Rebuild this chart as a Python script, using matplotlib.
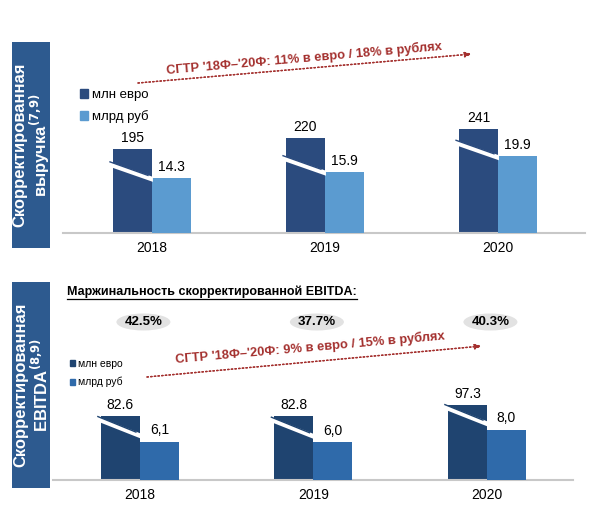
import matplotlib
matplotlib.use("Agg")
import matplotlib.pyplot as plt
from matplotlib.patches import Patch, Polygon, Rectangle, Ellipse
from matplotlib.lines import Line2D
from matplotlib.transforms import IdentityTransform

plt.rcParams['font.family'] = ['Liberation Sans', 'DejaVu Sans']

years = ['2018', '2019', '2020']
rev_eur = [195, 220, 241]
rev_rub = [14.3, 15.9, 19.9]
ebitda_eur = [82.6, 82.8, 97.3]
ebitda_rub = [6.1, 6.0, 8.0]
margin = [42.5, 37.7, 40.3]

W, H = 590, 505
fig = plt.figure(figsize=(W / 100, H / 100), dpi=100)

BOX = '#2D5A8F'
RED = '#A4302E'
GRID = '#C8C8C8'


def px_axes(left, top, right, bottom):
    return fig.add_axes([left / W, 1 - bottom / H, (right - left) / W, (bottom - top) / H])


def fig_xy(x, y):
    # pixel coords (y down) -> figure fraction
    return x / W, 1 - y / H


def setup(ax, xlim):
    ax.set_xlim(*xlim)
    for s in ['top', 'left', 'right']:
        ax.spines[s].set_visible(False)
    ax.spines['bottom'].set_color(GRID)
    ax.spines['bottom'].set_linewidth(1.5)
    ax.set_yticks([])
    ax.set_xticks(range(len(years)))
    ax.set_xticklabels(years, fontsize=10)
    ax.tick_params(axis='x', length=0, pad=6)


def panel(top, bottom, left, right, xlim, eur, rub, c1, c2, s1, s2, fmt_rub, brk):
    ax = px_axes(left, top, right, bottom)
    setup(ax, xlim)
    h = bottom - top
    ax.set_ylim(0, h / s1)
    ax2 = ax.twinx()
    ax2.set_ylim(0, h / s2)
    ax2.set_yticks([])
    for s in ax2.spines.values():
        s.set_visible(False)
    w = 0.225
    x = list(range(len(years)))
    b1 = ax.bar([i - w for i in x], eur, width=w, align='edge', color=c1, zorder=2)
    b2 = ax2.bar(x, rub, width=w, align='edge', color=c2, zorder=2)
    ax.bar_label(b1, labels=[f"{v:g}" for v in eur], padding=3, fontsize=10)
    ax2.bar_label(b2, labels=[fmt_rub(v) for v in rub], padding=3, fontsize=10)
    # broken-bar marks
    off, drop, thick = brk
    for r1, r2 in zip(b1, b2):
        x0, _ = ax.transData.transform((r1.get_x(), 0))
        x1, _ = ax.transData.transform((r1.get_x() + r1.get_width(), 0))
        _, yt = ax2.transData.transform((0, r2.get_height()))
        ur = yt + off
        ul = ur + drop
        pts = [(x0 - 3, ul), (x1 + 1, ur), (x1 + 1, ur - thick), (x0 - 3, ul - thick)]
        fig.add_artist(Polygon(pts, closed=True, fc='white', ec='none',
                               transform=IdentityTransform(), zorder=5))
        fig.add_artist(Line2D([x0 - 3, x1 - 4], [ul, ur + 1.5], color=c1, lw=1.0,
                              transform=IdentityTransform(), zorder=6))
    return ax, ax2


# ---- top panel: revenue
ax_t, ax_t2 = panel(40, 233, 63, 585, (-0.514, 2.503), rev_eur, rev_rub,
                    '#2B4B7E', '#5B9BD0', 0.4308, 3.855,
                    lambda v: f"{v:.1f}", (1, 15, 5))
# ---- bottom panel: EBITDA
ax_b, ax_b2 = panel(300, 480, 53, 573, (-0.501, 2.496), ebitda_eur, ebitda_rub,
                    '#1F4470', '#2F6AAA', 0.773, 6.3,
                    lambda v: f"{v:.1f}".replace('.', ','), (8, 17, 5))

# side boxes
for (top, bottom, label) in [(42, 248, "Скорректированная\nвыручка$^{\\mathbf{(7{,}9)}}$"),
                             (282, 488, "Скорректированная\nEBITDA$^{\\mathbf{(8{,}9)}}$")]:
    x0, y0 = fig_xy(12, bottom)
    fig.add_artist(Rectangle((x0, y0), 38 / W, (bottom - top) / H, fc=BOX, ec='none',
                             transform=fig.transFigure))
    cx, cy = fig_xy(32, (top + bottom) / 2)
    fig.text(cx, cy, label, rotation=90, ha='center', va='center', multialignment='center',
             color='white', fontsize=12, fontweight='bold', linespacing=1.05)

# legends
ax_t.legend(handles=[Patch(color='#2B4B7E', label='млн евро'), Patch(color='#5B9BD0', label='млрд руб')],
            loc='upper left', bbox_to_anchor=fig_xy(80, 89), bbox_transform=fig.transFigure,
            frameon=False, fontsize=9.5, handlelength=0.6, handleheight=0.6, handletextpad=0.3,
            labelspacing=0.7, borderpad=0, borderaxespad=0)
ax_b.legend(handles=[Patch(color='#1F4470', label='млн евро'), Patch(color='#2F6AAA', label='млрд руб')],
            loc='upper left', bbox_to_anchor=fig_xy(70, 359), bbox_transform=fig.transFigure,
            frameon=False, fontsize=7.5, handlelength=0.5, handleheight=0.5, handletextpad=0.3,
            labelspacing=0.75, borderpad=0, borderaxespad=0)

# CAGR arrows and captions
for (p0, p1, c, txt) in [((138, 83), (472, 54), (304, 58),
                          "СГТР '18Ф–'20Ф: 11% в евро / 18% в рублях"),
                         ((147, 377), (482, 346), (310, 348),
                          "СГТР '18Ф–'20Ф: 9% в евро / 15% в рублях")]:
    fig.add_artist(plt.annotate('', xy=fig_xy(*p1), xytext=fig_xy(*p0),
                                xycoords='figure fraction', textcoords='figure fraction',
                                arrowprops=dict(arrowstyle='-|>,head_length=0.4,head_width=0.15',
                                                linestyle=':', lw=1.0, color=RED,
                                                shrinkA=0, shrinkB=0)))
    fig.text(*fig_xy(*c), txt, rotation=5, rotation_mode='anchor', ha='center', va='center',
             color=RED, fontsize=9.3, fontweight='bold')

# EBITDA margin title and bubbles
t = fig.text(*fig_xy(67, 292), "Маржинальность скорректированной EBITDA:", ha='left', va='center',
             fontsize=9, fontweight='bold')
fig.canvas.draw()
bb = t.get_window_extent()
fig.add_artist(Line2D([bb.x0, bb.x1], [bb.y0 - 0.5, bb.y0 - 0.5], color='black', lw=0.9,
                      transform=IdentityTransform()))

y_m = H - 322
for i, m in enumerate(margin):
    xc, _ = ax_b.transData.transform((i + 0.02, 0))
    fig.add_artist(Ellipse((xc, y_m), 54, 17, fc='#E2E2E2', ec='none',
                           transform=IdentityTransform(), zorder=1))
    fig.text(xc / W, y_m / H, f"{m:.1f}%", ha='center', va='center',
             fontsize=9.5, fontweight='bold', zorder=2)

fig.savefig('out.png', dpi=100)
